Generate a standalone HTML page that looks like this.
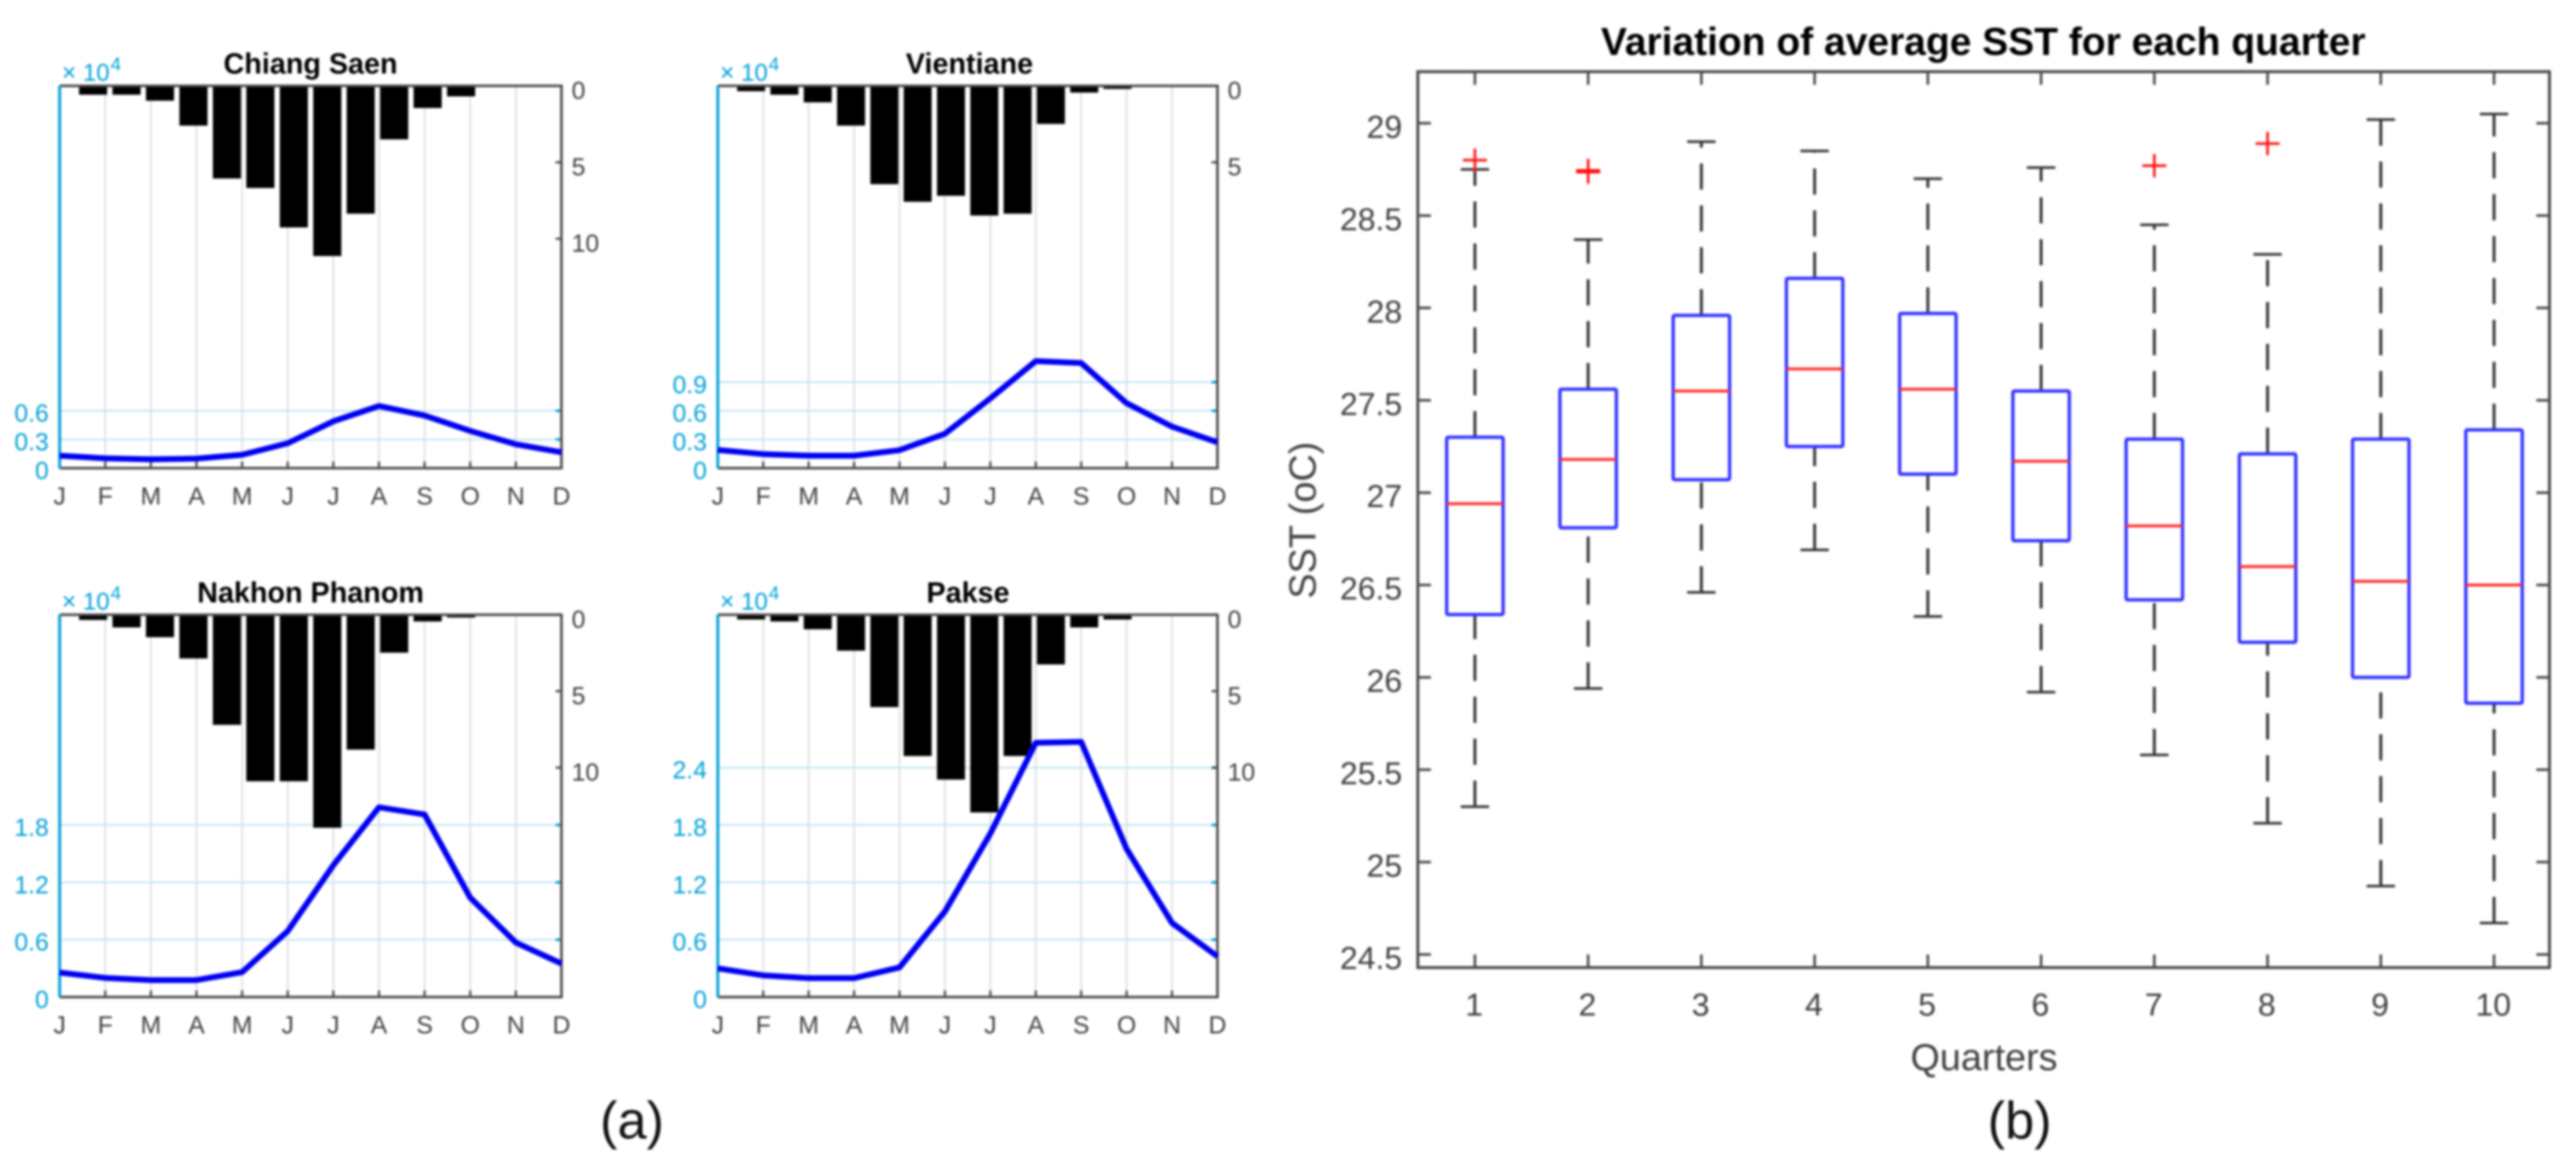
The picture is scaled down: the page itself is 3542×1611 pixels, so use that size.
<!DOCTYPE html>
<html lang="en">
<head>
<meta charset="utf-8">
<title>River discharge and SST variation</title>
<style>
html,body{margin:0;padding:0;background:#fff;}
svg{display:block;filter:blur(1.5px);font-family:"Liberation Sans",sans-serif;}
</style>
</head>
<body>
<svg id="fig" xmlns="http://www.w3.org/2000/svg" width="3542" height="1611" viewBox="0 0 3542 1611">
  <rect x="0" y="0" width="3542" height="1611" fill="#fff"/>
  <g id="panels"></g>
  <g id="boxplot"></g>
  <text x="427" y="101" text-anchor="middle" font-size="39.5" font-weight="bold" fill="#000">Chiang Saen</text>
  <text x="1333" y="101" text-anchor="middle" font-size="39.5" font-weight="bold" fill="#000">Vientiane</text>
  <text x="427" y="828" text-anchor="middle" font-size="39.5" font-weight="bold" fill="#000">Nakhon Phanom</text>
  <text x="1331" y="828" text-anchor="middle" font-size="39.5" font-weight="bold" fill="#000">Pakse</text>
  <text x="2727" y="75.5" text-anchor="middle" font-size="53.6" font-weight="bold" fill="#000">Variation of average SST for each quarter</text>
  <text x="2728" y="1471" text-anchor="middle" font-size="52" fill="#404040">Quarters</text>
  <text transform="translate(1809 715) rotate(-90)" text-anchor="middle" font-size="52" fill="#404040">SST (oC)</text>
  <text x="869" y="1565" text-anchor="middle" font-size="72" fill="#111">(a)</text>
  <text x="2777" y="1565" text-anchor="middle" font-size="72" fill="#111">(b)</text>
</svg>
<script>
// Hydrograph data
var months = ['J','F','M','A','M','J','J','A','S','O','N','D'];
var chiangSaenRain = [0.58,0.58,0.97,2.6,6.06,6.68,9.26,11.13,8.36,3.5,1.45,0.69];
var vientianeRain = [0.35,0.58,1.08,2.6,6.43,7.58,7.19,8.48,8.36,2.49,0.44,0.2];
var nakhonPhanomRain = [0.34,0.83,1.47,2.86,7.2,10.89,10.89,13.93,8.82,2.48,0.44,0.18];
var pakseRain = [0.31,0.44,0.95,2.35,6.04,9.24,10.78,12.93,9.24,3.25,0.83,0.31];
var chiangSaenFlow = [0.13,0.103,0.092,0.1,0.14,0.26,0.49,0.65,0.55,0.39,0.25,0.166];
var vientianeFlow = [0.19,0.147,0.13,0.13,0.188,0.36,0.73,1.12,1.1,0.68,0.435,0.27];
var nakhonPhanomFlow = [0.256,0.2,0.177,0.177,0.26,0.69,1.38,1.985,1.91,1.04,0.57,0.35];
var pakseFlow = [0.3,0.227,0.198,0.198,0.31,0.896,1.71,2.66,2.67,1.55,0.776,0.425];
var chiangSaenFlowTicks = ['0','0.3','0.6'];
var vientianeFlowTicks = ['0','0.3','0.6','0.9'];
var nakhonPhanomFlowTicks = ['0','0.6','1.2','1.8'];
var pakseFlowTicks = ['0','0.6','1.2','1.8','2.4'];
var chiangSaenRainTicks = ['0','5','10'];
var vientianeRainTicks = ['0','5'];
var nakhonPhanomRainTicks = ['0','5','10'];
var pakseRainTicks = ['0','5','10'];

// Boxplot data
var quarters = ['1','2','3','4','5','6','7','8','9','10'];
var whiskerHigh = [28.75,28.37,28.9,28.85,28.7,28.76,28.45,28.29,29.02,29.05];
var q3Values = [27.3,27.56,27.96,28.16,27.97,27.55,27.29,27.21,27.29,27.34];
var medians = [26.94,27.18,27.55,27.67,27.56,27.17,26.82,26.6,26.52,26.5];
var q1Values = [26.34,26.81,27.07,27.25,27.1,26.74,26.42,26.19,26.0,25.86];
var whiskerLow = [25.3,25.94,26.46,26.69,26.33,25.92,25.58,25.21,24.87,24.67];
var outlierQuarter = [1,2,2,7,8];
var outlierValue = [28.8,28.735,28.745,28.77,28.89];
var sstTicks = ['24.5','25','25.5','26','26.5','27','27.5','28','28.5','29'];

var NS = 'http://www.w3.org/2000/svg';
function mk(tag, attrs, parent, txt) {
  var e = document.createElementNS(NS, tag);
  for (var k in attrs) e.setAttribute(k, attrs[k]);
  if (txt !== undefined) e.textContent = txt;
  parent.appendChild(e);
  return e;
}

var CYAN = '#00a0d8', AXIS = '#484848', TXT = '#404040';

function drawPanel(root, key, left, right, top, bottom, rain, flow, flowTicks, rainTicks) {
  var g = mk('g', {}, root);
  
  
  var w = right - left, h = bottom - top;
  function xMonth(i) { return left + w * i / 11; }
  function xBar(i) { return left + w * (i + 1) / 15; }
  function yRain(v) { return top + h * v / 25; }
  function yFlow(v) { return bottom - h * v / 4; }
  var barW = w / 15 * 0.84, i, el;

  for (i = 1; i < 11; i++) {
    el = mk('line', {x1: xMonth(i), x2: xMonth(i), y1: top, y2: bottom, stroke: '#e0e0e0', 'stroke-width': 2.5}, g);
    
    
  }
  flowTicks.forEach(function (t) {
    var v = parseFloat(t);
    if (v === 0) return;
    var gl = mk('line', {x1: left, x2: right, y1: yFlow(v), y2: yFlow(v), stroke: '#c6e6f5', 'stroke-width': 2.5}, g);
    
    
    var tk = mk('line', {x1: right - 8, x2: right, y1: yFlow(v), y2: yFlow(v), stroke: CYAN, 'stroke-width': 3.5}, g);
    
    
  });
  rain.forEach(function (v, n) {
    var b = mk('rect', {x: xBar(n) - barW / 2, y: yRain(0), width: barW, height: yRain(v) - yRain(0), fill: '#000'}, g);
    
    
  });
  var pts = flow.map(function (v, n) { return xMonth(n).toFixed(1) + ',' + yFlow(v).toFixed(1); }).join(' ');

  months.forEach(function (m, n) {
    var tk = mk('line', {x1: xMonth(n), x2: xMonth(n), y1: bottom - 9, y2: bottom, stroke: AXIS, 'stroke-width': 3}, g);
    
    
    var lb = mk('text', {x: xMonth(n), y: bottom + 50, 'text-anchor': 'middle', 'font-size': 34, fill: TXT}, g, m);
    
    
  });

  var ax = mk('path', {d: 'M' + left + ' ' + top + 'H' + right + 'V' + bottom + 'H' + left, fill: 'none', stroke: AXIS, 'stroke-width': 3.5}, g);
  
  
  var ay = mk('line', {x1: left, x2: left, y1: top, y2: bottom, stroke: CYAN, 'stroke-width': 4}, g);
  
  

  var ln = mk('polyline', {points: pts, fill: 'none', stroke: '#0000f0', 'stroke-width': 8, 'stroke-linejoin': 'round'}, g);
  
  

  flowTicks.forEach(function (t) {
    var lb = mk('text', {x: left - 15, y: yFlow(parseFloat(t)) + 15, 'text-anchor': 'end', 'font-size': 34, fill: CYAN}, g, t);
    
    
  });
  rainTicks.forEach(function (t) {
    var v = parseFloat(t);
    var tk = mk('line', {x1: right - 8, x2: right, y1: yRain(v), y2: yRain(v), stroke: AXIS, 'stroke-width': 3}, g);
    
    
    var lb = mk('text', {x: right + 14, y: yRain(v) + 18, 'font-size': 34, fill: TXT}, g, t);
    
    
  });

  var m1 = mk('text', {x: left + 3, y: top - 7, 'font-size': 34, fill: CYAN}, g, '\u00d7');
  
  
  var m2 = mk('text', {x: left + 32, y: top - 7, 'font-size': 33, fill: CYAN}, g, '10');
  
  
  var m3 = mk('text', {x: left + 70, y: top - 21, 'font-size': 26, fill: CYAN}, g, '4');
  
  
}

var panelsRoot = document.getElementById('panels');
drawPanel(panelsRoot, 'chiang-saen', 82, 772, 118, 643.5, chiangSaenRain, chiangSaenFlow, chiangSaenFlowTicks, chiangSaenRainTicks);
drawPanel(panelsRoot, 'vientiane', 987, 1674, 118, 643.5, vientianeRain, vientianeFlow, vientianeFlowTicks, vientianeRainTicks);
drawPanel(panelsRoot, 'nakhon-phanom', 82, 772, 845, 1370.5, nakhonPhanomRain, nakhonPhanomFlow, nakhonPhanomFlowTicks, nakhonPhanomRainTicks);
drawPanel(panelsRoot, 'pakse', 987, 1674, 845, 1370.5, pakseRain, pakseFlow, pakseFlowTicks, pakseRainTicks);

(function drawBoxplot() {
  var root = document.getElementById('boxplot');
  var L = 1949.5, R = 3505.5, T = 98.5, B = 1330;
  function xQ(q) { return 2028 + (q - 1) * 155.7; }
  function yS(v) { return 169.4 + (29 - v) * 253.9; }
  var halfBox = 38.8, halfCap = 19.5, el;

  quarters.forEach(function (label, n) {
    var q = n + 1, x = xQ(q);
    var up = mk('line', {x1: x, x2: x, y1: yS(q3Values[n]), y2: yS(whiskerHigh[n]), stroke: '#333', 'stroke-width': 4, 'stroke-dasharray': '36 21.6'}, root);
    
    
    var lo = mk('line', {x1: x, x2: x, y1: yS(whiskerLow[n]), y2: yS(q1Values[n]), stroke: '#333', 'stroke-width': 4, 'stroke-dasharray': '36 21.6'}, root);
    
    
    var c1 = mk('line', {x1: x - halfCap, x2: x + halfCap, y1: yS(whiskerHigh[n]), y2: yS(whiskerHigh[n]), stroke: '#333', 'stroke-width': 3.5}, root);
    
    
    var c2 = mk('line', {x1: x - halfCap, x2: x + halfCap, y1: yS(whiskerLow[n]), y2: yS(whiskerLow[n]), stroke: '#333', 'stroke-width': 3.5}, root);
    
    
    var bx = mk('rect', {x: x - halfBox, y: yS(q3Values[n]), width: halfBox * 2, height: yS(q1Values[n]) - yS(q3Values[n]), fill: 'none', stroke: '#3030ff', 'stroke-width': 4.5, rx: 2}, root);
    
    
    var md = mk('line', {x1: x - halfBox, x2: x + halfBox, y1: yS(medians[n]), y2: yS(medians[n]), stroke: '#ff3030', 'stroke-width': 4}, root);
    
    
    var t1 = mk('line', {x1: x, x2: x, y1: B - 18, y2: B, stroke: AXIS, 'stroke-width': 3.5}, root);
    
    
    var t2 = mk('line', {x1: x, x2: x, y1: T, y2: T + 18, stroke: AXIS, 'stroke-width': 3.5}, root);
    
    
    var lb = mk('text', {x: x - 1, y: 1396, 'text-anchor': 'middle', 'font-size': 44, fill: TXT}, root, label);
    
    
  });

  outlierValue.forEach(function (v, n) {
    var x = xQ(outlierQuarter[n]), y = yS(v);
    var o = mk('path', {d: 'M' + (x - 16.5) + ' ' + y + 'H' + (x + 16.5) + 'M' + x + ' ' + (y - 16) + 'V' + (y + 16), fill: 'none', stroke: '#ff1010', 'stroke-width': 3.5}, root);
    
    
  });

  sstTicks.forEach(function (t) {
    var y = yS(parseFloat(t));
    var a = mk('line', {x1: L, x2: L + 18, y1: y, y2: y, stroke: AXIS, 'stroke-width': 3.5}, root);
    
    
    var b = mk('line', {x1: R - 18, x2: R, y1: y, y2: y, stroke: AXIS, 'stroke-width': 3.5}, root);
    
    
    var lb = mk('text', {x: 1928, y: y + 20, 'text-anchor': 'end', 'font-size': 44, fill: TXT}, root, t);
    
    
  });

  el = mk('rect', {x: L, y: T, width: R - L, height: B - T, fill: 'none', stroke: AXIS, 'stroke-width': 4}, root);
  
  
})();
</script>
</body>
</html>
